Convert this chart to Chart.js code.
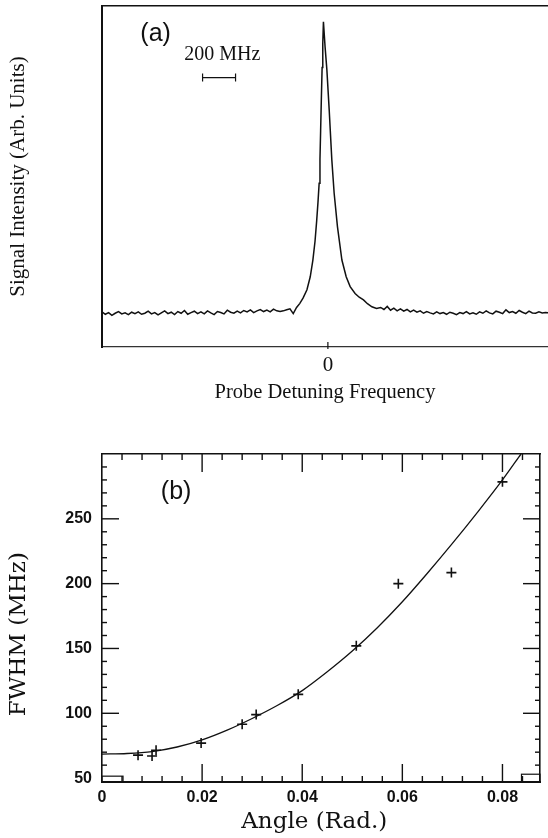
<!DOCTYPE html>
<html>
<head>
<meta charset="utf-8">
<script src="https://cdn.jsdelivr.net/npm/chart.js@4.4.0/dist/chart.umd.min.js"></script>
<style>
  html, body { margin: 0; padding: 0; background: #fff; }
  #wrap { position: relative; width: 548px; height: 838px; }
  #spectrum { position: absolute; left: 0; top: 0; }
  #fwhm { position: absolute; left: 0; top: 415px; }
</style>
</head>
<body>
<div id="wrap">
  <canvas id="spectrum" width="548" height="415"></canvas>
  <canvas id="fwhm" width="548" height="423"></canvas>
</div>
<script>
// (a) probe spectrum, detuning in MHz, signal in arbitrary units
const detuningMHz = [
  -1370, -1350, -1330, -1310, -1290, -1270, -1250, -1230, -1210, -1190,
  -1170, -1150, -1130, -1110, -1090, -1070, -1050, -1030, -1010, -990,
  -970, -950, -930, -910, -890, -870, -850, -830, -810, -790,
  -770, -750, -730, -710, -690, -670, -650, -630, -610, -590,
  -570, -550, -530, -510, -490, -470, -450, -430, -410, -390,
  -370, -350, -330, -310,
  -290, -270, -250, -230, -210, -190, -170, -150, -127, -107,
  -91, -78, -68, -60, -53, -48, -44, -40, -35, -31,
  -27, -17, -6, 8, 24, 38, 58, 85, 111, 135,
  165, 190, 216, 240, 267, 295,
  320, 340, 360, 380, 400, 420, 440, 460, 480, 500,
  520, 540, 560, 580, 600, 620, 640, 660, 680, 700,
  720, 740, 760, 780, 800, 820, 840, 860, 880, 900,
  920, 940, 960, 980, 1000, 1020, 1040, 1060, 1080, 1100,
  1120, 1140, 1160, 1180, 1200, 1220, 1240, 1260, 1280, 1300,
  1320, 1340
];
const signal = [
  10.3, 9.6, 10.1, 9.3, 9.9, 10.4, 9.7, 10.0, 9.5, 10.2,
  9.8, 10.3, 9.6, 9.9, 10.5, 9.7, 10.1, 9.4, 10.0, 10.6,
  9.8, 10.2, 9.5, 10.4, 9.9, 10.7, 9.6, 10.1, 10.5, 9.8,
  10.3, 9.7, 10.6, 10.0, 9.5, 10.4, 10.1, 9.7, 10.8, 10.2,
  9.9, 10.5, 10.0, 10.7, 10.3, 10.9, 10.1, 10.6, 11.0, 10.4,
  10.8, 10.3, 11.1, 10.6,
  10.4, 10.6, 10.9, 11.2, 9.8, 11.6, 12.8, 14.4, 16.8, 20.6,
  25.5, 31.0, 37.0, 42.5, 48.0, 55.0, 63.5, 72.0, 82.0, 89.0,
  95.4, 88.0, 81.2, 69.5, 54.8, 45.1, 35.3, 25.5, 20.6, 17.7,
  15.7, 14.6, 13.8, 12.7, 11.8, 11.3,
  11.6, 11.0, 11.9, 10.8, 11.4, 10.6, 11.2, 10.5, 11.0, 10.3,
  10.8, 10.2, 10.6, 9.9, 10.4, 10.0, 9.7, 10.3, 9.8, 10.1,
  9.6, 10.2, 9.9, 9.5, 10.1, 9.8, 10.4, 9.7, 10.0, 9.6,
  10.3, 9.9, 10.6, 10.0, 9.7, 10.5, 10.2, 9.8, 10.9, 10.1,
  10.4, 9.9, 10.7, 10.2, 9.8, 10.5, 10.0, 9.9, 10.3, 10.0,
  10.1, 10.0
];
const spectrumTicks = [0];

// (b) linewidth against angle
const angleRad = [0.0072, 0.0100, 0.0108, 0.0198, 0.0280, 0.0308, 0.0392, 0.0508, 0.0592, 0.0698, 0.0800];
const fwhmMHz = [67.7, 67.0, 71.5, 77.0, 91.5, 99.0, 114.6, 152.0, 200.0, 208.5, 278.5];
const fitAngle = [0, 0.005, 0.01, 0.015, 0.02, 0.025, 0.03, 0.035, 0.04, 0.045, 0.05, 0.055, 0.06, 0.065, 0.07, 0.075, 0.08, 0.0837];
const fitFwhm = [68.5, 69, 70.5, 74, 79.5, 87, 96, 106, 117.5, 132, 148, 166, 186, 208, 231, 255, 280, 300];
const angleTicks = [0, 0.02, 0.04, 0.06, 0.08];
const fwhmTicks = [50, 100, 150, 200, 250];

const ink = '#111';
const serif = 'Liberation Serif';

// labels and scale bar of panel (a)
const spectrumNotes = {
  id: 'spectrumNotes',
  afterDraw(chart) {
    const { ctx, scales: { x, y }, chartArea } = chart;
    ctx.save();
    ctx.fillStyle = ink;
    ctx.strokeStyle = ink;
    ctx.textAlign = 'center';
    ctx.textBaseline = 'middle';
    ctx.font = '25px "Liberation Sans"';
    ctx.fillText('(a)', x.getPixelForValue(-1045), y.getPixelForValue(91.8));
    ctx.font = '20px "' + serif + '"';
    ctx.fillText('200 MHz', x.getPixelForValue(-640), y.getPixelForValue(85.6));
    // 200 MHz bar
    const x1 = x.getPixelForValue(-760), x2 = x.getPixelForValue(-560), yb = y.getPixelForValue(79);
    ctx.lineWidth = 1.2;
    ctx.beginPath();
    ctx.moveTo(x1, yb); ctx.lineTo(x2, yb);
    ctx.moveTo(x1, yb - 4); ctx.lineTo(x1, yb + 4);
    ctx.moveTo(x2, yb - 4); ctx.lineTo(x2, yb + 4);
    ctx.stroke();
    // inward tick at zero
    const x0 = x.getPixelForValue(0);
    ctx.beginPath();
    ctx.moveTo(x0, chartArea.bottom + 2); ctx.lineTo(x0, chartArea.bottom - 5);
    ctx.stroke();
    ctx.restore();
  }
};

new Chart(document.getElementById('spectrum'), {
  type: 'line',
  data: {
    datasets: [{
      data: detuningMHz.map((f, i) => ({ x: f, y: signal[i] })),
      borderColor: ink,
      borderWidth: 1.5,
      pointRadius: 0,
      tension: 0,
      fill: false
    }]
  },
  options: {
    responsive: false,
    animation: false,
    devicePixelRatio: 1,
    layout: { padding: { left: 0, top: 6, right: 0, bottom: 0 } },
    plugins: { legend: { display: false }, tooltip: { enabled: false } },
    scales: {
      x: {
        type: 'linear', position: 'bottom', min: -1370, max: 1335,
        grid: { display: false, drawTicks: false },
        border: { display: true, color: '#333', width: 1.3 },
        afterBuildTicks: s => { s.ticks = spectrumTicks.map(v => ({ value: v })); },
        afterFit: s => { s.height = 68; },
        ticks: { font: { family: serif, size: 21 }, color: ink, padding: 6, callback: v => String(v) },
        title: { display: true, text: 'Probe Detuning Frequency', color: ink,
                 font: { family: serif, size: 20.5 }, padding: { top: 0, bottom: 10 } }
      },
      xTop: {
        type: 'linear', position: 'top', min: -1370, max: 1335,
        grid: { display: false, drawTicks: false },
        border: { display: true, color: ink, width: 1.5 },
        ticks: { display: false },
        afterFit: s => { s.height = 0; }
      },
      y: {
        min: 0, max: 100,
        grid: { display: false, drawTicks: false },
        border: { display: true, color: ink, width: 2 },
        ticks: { display: false },
        afterFit: s => { s.width = 102; },
        title: { display: true, text: 'Signal Intensity (Arb. Units)', color: ink,
                 font: { family: serif, size: 21 }, padding: { top: 6, bottom: 0 } }
      }
    }
  },
  plugins: [spectrumNotes]
});

// inward ticks, corner boxes, label and axis titles of panel (b)
const frameTicks = {
  id: 'frameTicks',
  afterDraw(chart) {
    const { ctx, chartArea: a, scales: { x, y } } = chart;
    ctx.save();
    ctx.strokeStyle = ink;
    ctx.lineWidth = 1.4;
    const seg = (x1, y1, x2, y2) => { ctx.beginPath(); ctx.moveTo(x1, y1); ctx.lineTo(x2, y2); ctx.stroke(); };
    for (let k = 1; k * 0.004 < 0.0875; k++) {
      const px = x.getPixelForValue(k * 0.004);
      const len = k % 5 === 0 ? 18 : 6;
      seg(px, a.bottom, px, a.bottom - len);
      seg(px, a.top, px, a.top + len);
    }
    for (let v = 60; v < 300; v += 10) {
      const py = y.getPixelForValue(v);
      const len = v % 50 === 0 ? 17 : 5;
      seg(a.left, py, a.left + len, py);
      seg(a.right, py, a.right - len, py);
    }
    // small boxes in the bottom corners
    ctx.lineWidth = 1.2;
    const bl = x.getPixelForValue(0.0042), bt = y.getPixelForValue(51.5);
    ctx.strokeRect(a.left, bt, bl - a.left, a.bottom - bt);
    const br = x.getPixelForValue(0.0838), bt2 = y.getPixelForValue(53);
    ctx.strokeRect(br, bt2, a.right - br, a.bottom - bt2);
    ctx.fillStyle = ink;
    ctx.font = '25px "Liberation Sans"';
    ctx.textAlign = 'center';
    ctx.textBaseline = 'middle';
    ctx.fillText('(b)', x.getPixelForValue(0.0148), y.getPixelForValue(270.8));
    // axis titles
    ctx.font = '23px "DejaVu Serif"';
    ctx.fillText('Angle (Rad.)', x.getPixelForValue(0.0424), a.bottom + 40);
    ctx.translate(19, y.getPixelForValue(161));
    ctx.rotate(-Math.PI / 2);
    ctx.fillText('FWHM (MHz)', 0, 0);
    ctx.restore();
  }
};

new Chart(document.getElementById('fwhm'), {
  type: 'scatter',
  data: {
    datasets: [
      {
        data: angleRad.map((v, i) => ({ x: v, y: fwhmMHz[i] })),
        pointStyle: 'cross',
        pointRadius: 5,
        borderColor: ink,
        borderWidth: 1.6,
        showLine: false
      },
      {
        data: fitAngle.map((v, i) => ({ x: v, y: fitFwhm[i] })),
        showLine: true,
        pointRadius: 0,
        borderColor: ink,
        borderWidth: 1.3,
        cubicInterpolationMode: 'monotone',
        fill: false
      }
    ]
  },
  options: {
    responsive: false,
    animation: false,
    devicePixelRatio: 1,
    layout: { padding: { left: 0, top: 39, right: 8, bottom: 0 } },
    plugins: { legend: { display: false }, tooltip: { enabled: false } },
    scales: {
      x: {
        type: 'linear', position: 'bottom', min: 0, max: 0.0875,
        grid: { display: false, drawTicks: false },
        border: { display: true, color: ink, width: 2 },
        afterBuildTicks: s => { s.ticks = angleTicks.map(v => ({ value: v })); },
        afterFit: s => { s.height = 56; },
        ticks: { font: { family: 'Liberation Sans', size: 16, weight: 'bold' }, color: ink, padding: 6,
                 callback: v => v === 0 ? '0' : v.toFixed(2) }
      },
      xTop: {
        type: 'linear', position: 'top', min: 0, max: 0.0875,
        grid: { display: false, drawTicks: false },
        border: { display: true, color: ink, width: 1.5 },
        ticks: { display: false },
        afterFit: s => { s.height = 0; }
      },
      y: {
        min: 47, max: 300,
        grid: { display: false, drawTicks: false },
        border: { display: true, color: ink, width: 1.6 },
        afterBuildTicks: s => { s.ticks = fwhmTicks.map(v => ({ value: v })); },
        afterFit: s => { s.width = 102; },
        ticks: { font: { family: 'Liberation Sans', size: 16, weight: 'bold' }, color: ink, padding: 10 }
      },
      yRight: {
        position: 'right', min: 47, max: 300,
        grid: { display: false, drawTicks: false },
        border: { display: true, color: ink, width: 1.6 },
        ticks: { display: false },
        afterFit: s => { s.width = 0; }
      }
    }
  },
  plugins: [frameTicks]
});
</script>
</body>
</html>
